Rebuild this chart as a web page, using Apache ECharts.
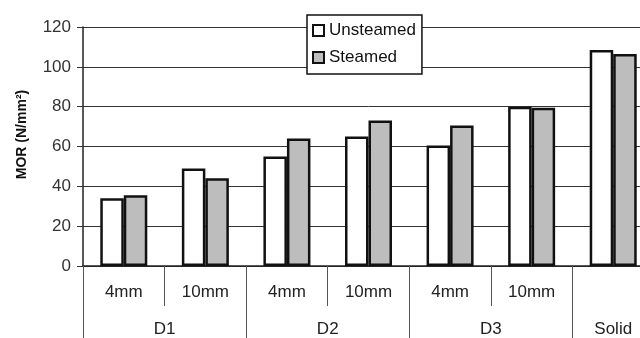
<!DOCTYPE html>
<html>
<head>
<meta charset="utf-8">
<script src="https://cdn.jsdelivr.net/npm/echarts@6/dist/echarts.min.js"></script>
<style>html,body{margin:0;padding:0;background:#fff;overflow:hidden;width:640px;height:338px}#c{width:660px;height:338px}</style>
</head>
<body>
<div id="c"></div>
<script>
// Data
var categories = ['D1-4mm', 'D1-10mm', 'D2-4mm', 'D2-10mm', 'D3-4mm', 'D3-10mm', 'Solid'];
var sizeLabels = ['4mm', '10mm', '4mm', '10mm', '4mm', '10mm', ''];
var groupLabels = ['D1', 'D2', 'D3', 'Solid'];
var groupCenters = [1, 3, 5, 6.5];
var groupBounds = [0, 2, 4, 6, 7];
var sizeBounds = [1, 3, 5];
var unsteamed = [34, 49, 55, 65, 60.5, 80, 108.5];
var steamed = [35.5, 44, 64, 73, 70.5, 79.5, 106.5];
var yTicks = [0, 20, 40, 60, 80, 100, 120];

var FONT = 'Liberation Sans, Arial, sans-serif';
var chart = echarts.init(document.getElementById('c'), null, {renderer: 'canvas'});
chart.setOption({
  animation: false,
  backgroundColor: '#fff',
  textStyle: {fontFamily: FONT},
  grid: {left: 83, right: 6, top: 27, bottom: 72, containLabel: false},
  legend: {
    orient: 'vertical',
    left: 307, top: 15,
    padding: [7, 6, 8, 5],
    itemWidth: 11, itemHeight: 11, itemGap: 10,
    backgroundColor: '#fff',
    borderColor: '#111', borderWidth: 1.5, borderRadius: 0,
    textStyle: {fontSize: 17, color: '#111', fontFamily: FONT},
    data: [
      {name: 'Unsteamed', icon: 'rect', itemStyle: {color: '#fff', borderColor: '#111', borderWidth: 2}},
      {name: 'Steamed', icon: 'rect', itemStyle: {color: '#bdbdbd', borderColor: '#111', borderWidth: 2}}
    ]
  },
  xAxis: [
    {
      type: 'category', data: categories, position: 'bottom',
      axisLine: {show: true, lineStyle: {color: '#222', width: 1.5}},
      axisTick: {show: false},
      splitLine: {show: false},
      axisLabel: {margin: 18, fontSize: 17, color: '#222', fontFamily: FONT,
        formatter: function (v, i) { return sizeLabels[i]; }}
    },
    {
      type: 'value', min: 0, max: 7, position: 'bottom',
      axisLine: {show: false},
      splitLine: {show: false},
      axisTick: {show: true, customValues: sizeBounds, length: 40, lineStyle: {color: '#555', width: 1}},
      axisLabel: {show: false}
    },
    {
      type: 'value', min: 0, max: 7, position: 'bottom',
      axisLine: {show: false},
      splitLine: {show: false},
      axisTick: {show: true, customValues: groupBounds, length: 80, lineStyle: {color: '#555', width: 1}},
      axisLabel: {show: true, customValues: groupCenters, margin: 55, fontSize: 17, color: '#222', fontFamily: FONT,
        formatter: function (v) {
          var k = groupCenters.indexOf(v);
          return k >= 0 ? groupLabels[k] : '';
        }}
    }
  ],
  yAxis: {
    type: 'value', min: yTicks[0], max: yTicks[yTicks.length - 1], interval: 20,
    name: 'MOR (N/mm²)', nameLocation: 'middle', nameGap: 54,
    nameTextStyle: {fontSize: 14, fontWeight: 'bold', color: '#111', fontFamily: FONT, padding: [0, 0, 0, 24]},
    axisLine: {show: true, lineStyle: {color: '#222', width: 1.5}},
    axisTick: {show: true, length: 6, lineStyle: {color: '#333', width: 1}},
    splitLine: {show: true, lineStyle: {color: '#333', width: 1}},
    axisLabel: {margin: 12, fontSize: 17, color: '#333', fontFamily: FONT}
  },
  series: [
    {name: 'Unsteamed', type: 'bar', data: unsteamed, barWidth: 23.5, barGap: '0%',
      itemStyle: {color: '#fff', borderColor: '#111', borderWidth: 2.5}},
    {name: 'Steamed', type: 'bar', data: steamed, barWidth: 23.5, barGap: '0%',
      itemStyle: {color: '#bdbdbd', borderColor: '#111', borderWidth: 2.5}}
  ]
});
</script>
</body>
</html>
